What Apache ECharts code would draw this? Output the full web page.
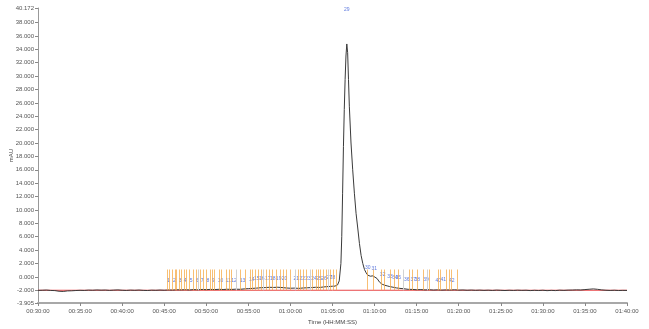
<!DOCTYPE html>
<html>
<head>
<meta charset="utf-8">
<script src="https://cdn.jsdelivr.net/npm/echarts@6.0.0/dist/echarts.min.js"></script>
<style>
  html, body { margin: 0; padding: 0; background: #fff; }
  #chart { width: 649px; height: 329px; }
</style>
</head>
<body>
<div id="chart"></div>
<script>
// chromatogram trace: time in minutes, absorbance in mAU
const traceTime = [
  30.0, 30.5, 31.0, 31.5, 32.0, 32.5, 33.0, 33.5, 34.0, 34.5, 35.0, 35.5, 36.0, 36.5, 37.0, 37.5,
  38.0, 38.5, 39.0, 39.5, 40.0, 40.5, 41.0, 41.5, 42.0, 42.5, 43.0, 43.5, 44.0, 44.5, 45.0, 45.5,
  46.0, 46.5, 47.0, 47.5, 48.0, 48.5, 49.0, 49.5, 50.0, 50.5, 51.0, 51.5, 52.0, 52.5, 53.0, 53.5,
  54.0, 54.5, 55.0, 55.5, 56.0, 56.5, 57.0, 57.5, 58.0, 58.5, 59.0, 59.5, 60.0, 60.5, 61.0, 61.5,
  62.0, 62.5, 63.0, 63.5, 64.0, 64.5, 65.0, 65.3, 65.6, 65.8, 66.0, 66.1, 66.2, 66.3, 66.4, 66.5,
  66.6, 66.7, 66.8, 66.9, 67.0, 67.2, 67.4, 67.6, 67.8, 68.0, 68.2, 68.4, 68.6, 68.8, 69.0, 69.2,
  69.5, 69.8, 70.0, 70.3, 70.6, 70.9, 71.2, 71.5, 71.8, 72.2, 72.6, 73.0, 73.5, 74.0, 74.5, 75.0,
  75.5, 76.0, 76.5, 77.0, 77.5, 78.0, 78.5, 79.0, 79.5, 80.0, 80.5, 81.0, 81.5, 82.0, 82.5, 83.0,
  83.5, 84.0, 84.5, 85.0, 85.5, 86.0, 86.5, 87.0, 87.5, 88.0, 88.5, 89.0, 89.5, 90.0, 90.5, 91.0,
  91.5, 92.0, 92.5, 93.0, 93.5, 94.0, 94.5, 95.0, 95.5, 96.0, 96.5, 97.0, 97.5, 98.0, 98.5, 99.0,
  99.5, 100.0
];
const traceValue = [
  -2.02, -2.00, -1.97, -2.03, -2.05, -2.15, -2.18, -2.10, -2.08, -2.04, -2.01, -2.03, -1.98, -2.00, -1.96, -1.99,
  -1.97, -2.02, -1.98, -1.95, -2.00, -2.03, -1.98, -2.01, -1.97, -2.02, -2.04, -1.99, -2.01, -1.97, -2.00, -1.96,
  -1.98, -1.93, -1.95, -1.92, -1.96, -1.90, -1.93, -1.88, -1.91, -1.87, -1.90, -1.86, -1.89, -1.85, -1.88, -1.84,
  -1.86, -1.80, -1.76, -1.72, -1.68, -1.62, -1.60, -1.56, -1.58, -1.55, -1.60, -1.66, -1.70, -1.68, -1.72, -1.66,
  -1.63, -1.60, -1.56, -1.58, -1.50, -1.45, -1.40, -1.38, -1.20, -0.60, 2.00, 6.00, 12.50, 19.50, 25.00, 29.50,
  33.00, 34.80, 33.50, 29.50, 25.50, 20.00, 16.00, 12.50, 9.50, 7.30, 5.00, 3.20, 2.00, 1.10, 0.60, 0.25,
  0.10, 0.15, 0.05, -0.25, -0.80, -1.10, -1.25, -1.35, -1.45, -1.55, -1.65, -1.72, -1.78, -1.86, -1.88, -1.92,
  -1.90, -1.95, -1.92, -1.97, -1.94, -1.98, -1.95, -1.97, -1.93, -1.98, -1.96, -2.00, -1.97, -2.01, -1.98, -2.02,
  -1.99, -2.03, -1.98, -2.01, -2.04, -2.00, -2.03, -1.99, -2.02, -2.00, -2.05, -2.01, -2.04, -2.00, -2.06, -2.02,
  -2.05, -1.99, -2.02, -1.98, -1.97, -1.94, -1.96, -1.90, -1.85, -1.80, -1.86, -1.95, -2.00, -2.03, -2.00, -2.04,
  -2.02, -2.03
];

// integration baseline
const baselineTime = [30, 100];
const baselineValue = [-2.0, -2.0];

// peak start/end markers (orange) and a few grey ones
const markerTimes = [
  45.37, 45.60, 46.01, 46.32, 46.48, 46.79, 47.08, 47.35, 47.67, 47.98, 48.46, 48.86, 49.34, 49.65,
  49.97, 50.45, 50.76, 50.92, 51.55, 51.83, 52.43, 52.74, 53.02, 54.09, 54.60, 55.20, 55.52, 55.79,
  56.18, 56.50, 57.18, 57.49, 57.89, 58.37, 58.76, 59.15, 59.47, 59.95, 60.94, 61.22, 61.53, 61.93,
  62.65, 63.04, 63.31, 63.60, 63.91, 64.23, 64.79, 65.10, 65.42,
  69.18, 69.85, 70.85, 71.12, 71.83, 72.35, 72.82, 74.13, 74.53, 75.08, 75.79, 76.51, 77.58, 77.78,
  78.57, 78.88, 79.17, 79.88
];
const greyMarkerTimes = [49.05, 53.53, 56.78, 60.54, 62.33, 64.50, 73.42, 76.27];
const markerBottom = -2.0;
const markerTop = 1.1;

// peak number labels
const peakLabelTimes = [
  45.5, 46.2, 46.9, 47.5, 48.2, 48.9, 49.5, 50.2, 50.8, 51.7, 52.6, 53.3, 54.3, 55.4, 56.0, 56.6,
  57.3, 57.9, 58.6, 59.3, 60.7, 61.4, 62.1, 62.8, 63.4, 64.0, 64.6, 65.0,
  66.7,
  69.18, 69.97, 70.96, 71.83, 72.43, 72.82, 73.82, 74.61, 75.08, 76.11, 77.58, 78.17, 79.17
];
const peakLabelValues = [
  -0.6, -0.6, -0.6, -0.6, -0.6, -0.5, -0.5, -0.5, -0.5, -0.5, -0.5, -0.5, -0.5, -0.4, -0.3, -0.3,
  -0.3, -0.3, -0.3, -0.3, -0.3, -0.3, -0.3, -0.2, -0.2, -0.2, -0.1, -0.1,
  39.9,
  1.4, 1.3, 0.3, 0.07, -0.08, -0.08, -0.44, -0.44, -0.44, -0.44, -0.6, -0.44, -0.55
];
const peakLabelNames = [
  "1", "2", "3", "4", "5", "6", "7", "8", "9", "10", "11", "12", "13", "14", "15", "16",
  "17", "18", "19", "20", "21", "22", "23", "24", "25", "26", "27", "28",
  "29",
  "30", "31", "32", "33", "34", "35", "36", "37", "38", "39", "40", "41", "42"
];

const yTicks = [-3.905, -2, 0, 2, 4, 6, 8, 10, 12, 14, 16, 18, 20, 22, 24, 26, 28, 30, 32, 34, 36, 38, 40.172];

function fmtTime(v) {
  const h = Math.floor(v / 60);
  const m = Math.round(v - h * 60);
  const p = (n) => String(n).padStart(2, "0");
  return p(h) + ":" + p(m) + ":00";
}

const chart = echarts.init(document.getElementById("chart"), null, { renderer: "canvas" });

const markerLine = (times) =>
  times.map((t) => [{ coord: [t, markerBottom] }, { coord: [t, markerTop] }]);

chart.setOption({
  animation: false,
  backgroundColor: "#fff",
  textStyle: { fontFamily: "Liberation Sans" },
  grid: { left: 38, right: 22, top: 8, bottom: 26, outerBoundsMode: "none", containLabel: false },
  xAxis: {
    type: "value",
    min: 30,
    max: 100,
    interval: 5,
    name: "Time (HH:MM:SS)",
    nameLocation: "middle",
    nameGap: 15,
    nameTextStyle: { fontSize: 6, color: "#444" },
    axisLine: { onZero: false, lineStyle: { color: "#a8a8a8", width: 2 } },
    axisTick: { length: 3, lineStyle: { color: "#888" } },
    axisLabel: { fontSize: 6, color: "#555", margin: 5, formatter: fmtTime },
    splitLine: { show: false },
  },
  yAxis: {
    type: "value",
    min: -3.905,
    max: 40.172,
    name: "mAU",
    nameLocation: "middle",
    nameGap: 24,
    nameRotate: 90,
    nameMoveOverlap: false,
    nameTextStyle: { fontSize: 6, color: "#444" },
    axisLine: { show: true, onZero: false, lineStyle: { color: "#999", width: 1 } },
    axisTick: { show: true, length: 3, customValues: yTicks, lineStyle: { color: "#888" } },
    axisLabel: {
      fontSize: 6,
      color: "#555",
      margin: 4,
      customValues: yTicks,
      formatter: (v) => v.toFixed(3),
    },
    splitLine: { show: false },
  },
  series: [
    {
      name: "baseline",
      type: "line",
      data: baselineTime.map((t, i) => [t, baselineValue[i]]),
      symbol: "none",
      lineStyle: { color: "#e8474a", width: 1 },
      z: 1,
      markLine: {
        silent: true,
        symbol: "none",
        label: { show: false },
        lineStyle: { color: "rgba(246,170,70,0.75)", width: 1, type: "solid" },
        data: markerLine(markerTimes),
      },
    },
    {
      name: "baseline grey",
      type: "line",
      data: [],
      symbol: "none",
      markLine: {
        silent: true,
        symbol: "none",
        label: { show: false },
        lineStyle: { color: "#d2d2d2", width: 1, type: "solid" },
        data: markerLine(greyMarkerTimes),
      },
    },
    {
      name: "mAU",
      type: "line",
      data: traceTime.map((t, i) => [t, traceValue[i]]),
      symbol: "none",
      lineStyle: { color: "#3a3a3a", width: 1 },
      z: 3,
    },
    {
      name: "peaks",
      type: "scatter",
      symbolSize: 0,
      data: peakLabelTimes.map((t, i) => ({ value: [t, peakLabelValues[i]], name: peakLabelNames[i] })),
      label: {
        show: true,
        position: "inside",
        formatter: (p) => p.name,
        fontSize: 5,
        color: "#3557d6",
      },
      z: 4,
    },
  ],
});
</script>
</body>
</html>
